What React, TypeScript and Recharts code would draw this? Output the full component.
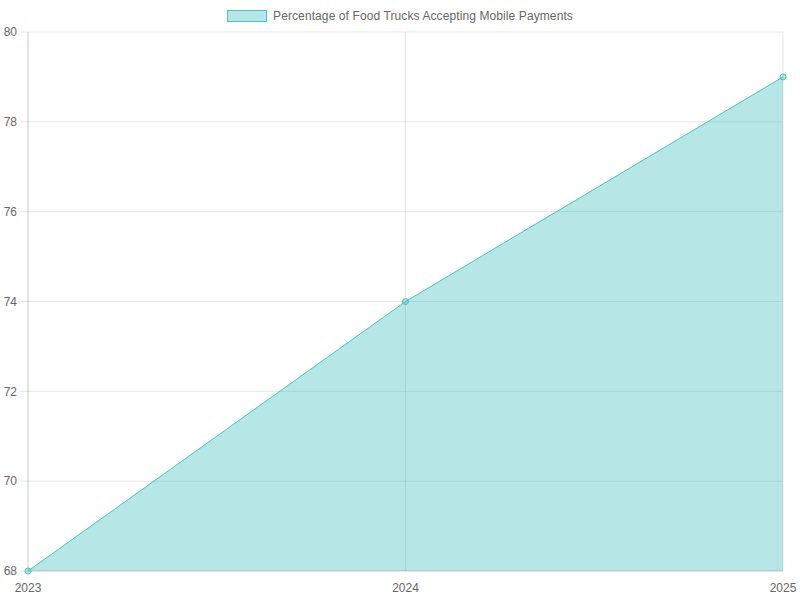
import React from 'react';
import {
  AreaChart,
  Area,
  XAxis,
  YAxis,
  CartesianGrid,
  Legend,
} from 'recharts';

const years = ['2023', '2024', '2025'];
const mobilePaymentShare = [68, 74, 79];
const yTicks = [68, 70, 72, 74, 76, 78, 80];

const SERIES_NAME = 'Percentage of Food Trucks Accepting Mobile Payments';
const TEAL = 'rgb(75, 192, 192)';
const TEAL_FILL = 'rgba(75, 192, 192, 0.4)';
const FONT = '"Liberation Sans", Arial, Helvetica, sans-serif';

const data = years.map((year, i) => ({ year, value: mobilePaymentShare[i] }));

const LegendBox = () => (
  <div
    style={{
      height: 32,
      display: 'flex',
      justifyContent: 'center',
      alignItems: 'flex-start',
      paddingTop: 10,
      boxSizing: 'border-box',
      fontFamily: FONT,
      fontSize: 12,
      color: '#666',
    }}
  >
    <span
      style={{
        width: 40,
        height: 12,
        background: TEAL_FILL,
        border: `1.5px solid ${TEAL}`,
        boxSizing: 'border-box',
        marginRight: 6,
      }}
    />
    <span style={{ lineHeight: '12px', letterSpacing: '0.1px' }}>{SERIES_NAME}</span>
  </div>
);

export default function App() {
  return (
    <div style={{ position: 'absolute', top: 0, left: 0, width: 800, height: 600, background: '#fff' }}>
      <AreaChart
        width={800}
        height={600}
        data={data}
        margin={{ top: 0, right: 17, bottom: 9, left: 0 }}
      >
        <Legend
          verticalAlign="top"
          height={32}
          wrapperStyle={{ left: 0, width: 800 }}
          content={() => <LegendBox />}
        />
        <CartesianGrid stroke="rgba(0,0,0,0.1)" />
        <XAxis
          dataKey="year"
          height={20}
          tickLine={false}
          tickSize={8}
          tickMargin={4}
          stroke="rgba(0,0,0,0.1)"
          tick={{ fill: '#666', fontSize: 12, fontFamily: FONT }}
          interval={0}
        />
        <YAxis
          width={28}
          domain={[68, 80]}
          ticks={yTicks}
          tickSize={8}
          tickMargin={3}
          tickLine={{ stroke: 'rgba(0,0,0,0.1)' }}
          stroke="rgba(0,0,0,0.1)"
          tick={{ fill: '#666', fontSize: 12, fontFamily: FONT }}
          interval={0}
        />
        <Area
          type="linear"
          dataKey="value"
          name={SERIES_NAME}
          stroke={TEAL}
          strokeWidth={1}
          fill={TEAL_FILL}
          fillOpacity={1}
          dot={{ r: 3, fill: TEAL_FILL, stroke: TEAL, strokeWidth: 1 }}
          activeDot={false}
          isAnimationActive={false}
        />
      </AreaChart>
    </div>
  );
}
